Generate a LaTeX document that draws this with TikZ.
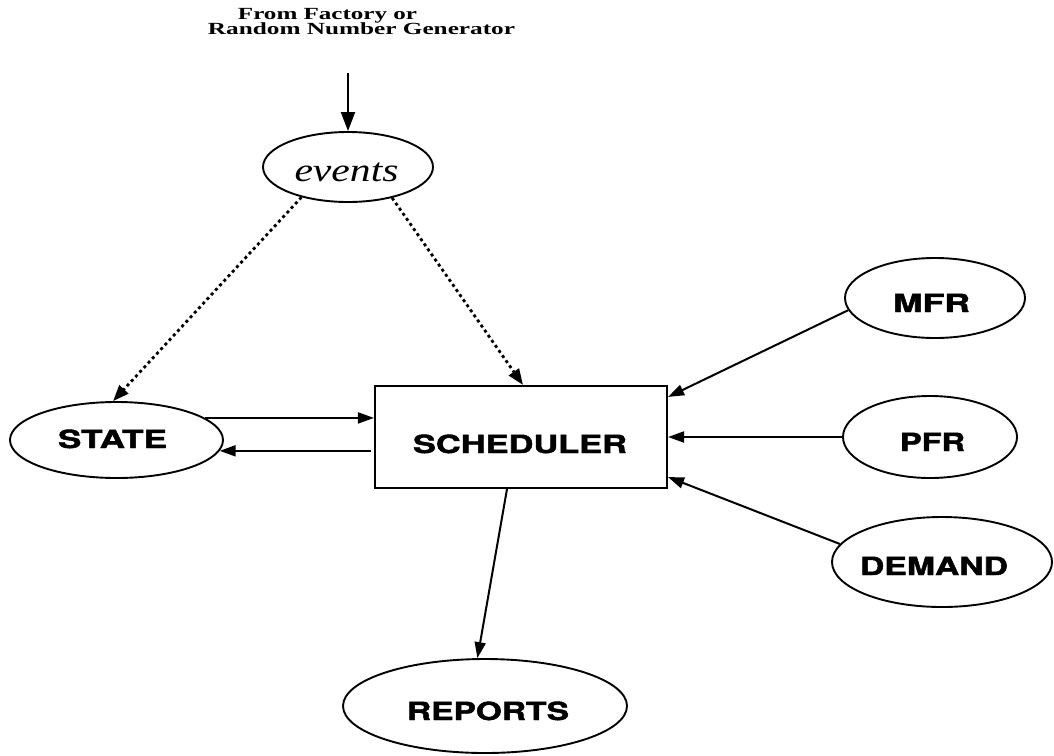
\documentclass[tikz,border=0pt]{standalone}
\usepackage{fontspec}
\usepackage{graphicx}
\setmainfont{Liberation Serif}
\newfontfamily\headfont{TeX Gyre Heros}[BoldFeatures={FakeBold=1.6}]
\usetikzlibrary{arrows.meta,calc,shapes.geometric}

% #1 horizontal kern (twice the shift), #2 drop of the baseline below the
% node centre, #3 printed width, #4 text
\newcommand\fitlabel[4]{\raisebox{-#2}[0pt][0pt]{\makebox[0pt]{\kern#1\resizebox{#3}{\height}{#4}}}}

\tikzset{
  oval/.style={ellipse, draw, line width=1.9pt, inner sep=0pt},
  box/.style={rectangle, draw, line width=2.1pt, inner sep=0pt},
  flow/.style={line width=2pt, -{Triangle[length=16pt,width=11pt]}},
  dotflow/.style={line width=2.8pt, dash pattern=on 3pt off 3.2pt,
                  -{Triangle[length=16pt,width=12pt]}},
  caps/.style={font=\headfont\bfseries\fontsize{25}{25}\selectfont},
  caption/.style={anchor=base, inner sep=0pt,
                  font=\bfseries\fontsize{17}{17}\selectfont},
}

\begin{document}
\begin{tikzpicture}[x=1pt, y=-1pt]
\useasboundingbox (0,0) rectangle (1054,755);

% source caption
\node[caption] (src1) at (327.5,19.5)
  {\raisebox{0pt}[\height][0pt]{\resizebox{179pt}{\height}{From Factory or}}};
\node[caption] (src2) at (361.5,34)
  {\resizebox{307pt}{\height}{Random Number Generator}};
\coordinate (feed) at (348,73);

% nodes
\node[oval, minimum width=170pt, minimum height=70pt,
      font=\itshape\fontsize{33}{33}\selectfont] (events) at (348,167)
  {\fitlabel{-3pt}{14.7pt}{104pt}{events}};
\node[oval, minimum width=213pt, minimum height=76pt, caps] (state) at (116.5,440)
  {\fitlabel{-8pt}{8pt}{109pt}{STATE}};
\node[box, minimum width=292pt, minimum height=102pt, caps] (sched) at (521,437)
  {\fitlabel{-2pt}{16pt}{214pt}{SCHEDULER}};
\node[oval, minimum width=180pt, minimum height=80pt, caps] (mfr) at (935,298)
  {\fitlabel{-7pt}{14pt}{77pt}{MFR}};
\node[oval, minimum width=174pt, minimum height=82pt, caps] (pfr) at (930,437)
  {\fitlabel{5pt}{14pt}{65pt}{PFR}};
\node[oval, minimum width=220pt, minimum height=90pt, caps] (demand) at (942,562)
  {\fitlabel{-16pt}{13pt}{148pt}{DEMAND}};
\node[oval, minimum width=284pt, minimum height=94pt, caps] (reports) at (485,706)
  {\fitlabel{6pt}{14pt}{162pt}{REPORTS}};

% connectors
\draw[line width=2pt, -{Triangle[length=19pt,width=14pt]}] (feed) -- (events.north);
\draw[dotflow] (events.213) -- (state.95);
\draw[dotflow] (events.325) -- ($(sched.north)+(2,0)$);
\draw[flow] (state.14) -- (state.14 -| sched.west);
\draw[flow, shorten <=3pt] (state.354 -| sched.west) -- (state.354);
\draw[flow] (mfr.188) -- ($(sched.north east)+(0,12)$);
\draw[flow] (pfr.west) -- (pfr.west -| sched.east);
\draw[flow] (demand.170) -- ($(sched.south east)+(0,-12)$);
\draw[flow] ($(sched.south)+(-14,0)$) -- (reports.99);
\end{tikzpicture}
\end{document}
